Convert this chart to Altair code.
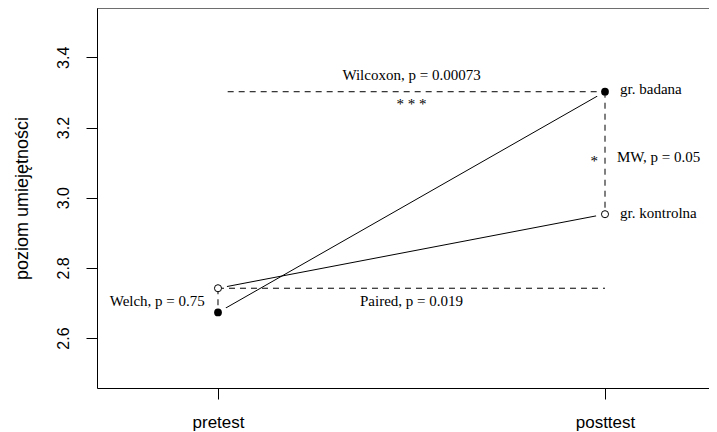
import altair as alt
import pandas as pd

# ---- data ----
groups = ["gr. badana", "gr. kontrolna"]
pretest_vals = [2.673, 2.742]
posttest_vals = [3.302, 2.953]
time_pos = [1, 2]
time_labels = ["pretest", "posttest"]
y_ticks = [2.6, 2.8, 3.0, 3.2, 3.4]

# dashed comparison segments (x, y, x2, y2)
seg_x = [1.025, 1.0, 2.0, 1.0]
seg_y = [3.302, 2.742, 3.302, 2.742]
seg_x2 = [2.0, 2.0, 2.0, 1.0]
seg_y2 = [3.302, 2.742, 2.953, 2.673]

# annotations
center_text = ["Wilcoxon, p = 0.00073", "* * *", "Paired, p = 0.019", "*"]
center_x = [1.5, 1.5, 1.5, 1.972]
center_y = [3.351, 3.266, 2.705, 3.105]
left_text = ["MW, p = 0.05", "gr. badana", "gr. kontrolna"]
left_x = [2.031, 2.039, 2.039]
left_y = [3.116, 3.311, 2.957]
right_text = ["Welch, p = 0.75"]
right_x = [0.966]
right_y = [2.705]

X_DOM = [0.68734, 2.26873]
Y_DOM = [2.4577, 3.5406]

pts = pd.DataFrame({
    "group": groups * 2,
    "t": [time_pos[0]] * 2 + [time_pos[1]] * 2,
    "v": pretest_vals + posttest_vals,
})
segs = pd.DataFrame({"x": seg_x, "y": seg_y, "x2": seg_x2, "y2": seg_y2})
ctext = pd.DataFrame({"txt": center_text, "x": center_x, "y": center_y})
ltext = pd.DataFrame({"txt": left_text, "x": left_x, "y": left_y})
rtext = pd.DataFrame({"txt": right_text, "x": right_x, "y": right_y})

label_expr = f"datum.value == {time_pos[0]} ? '{time_labels[0]}' : '{time_labels[1]}'"

x_scale = alt.Scale(domain=X_DOM, nice=False, zero=False)
y_scale = alt.Scale(domain=Y_DOM, nice=False, zero=False)

x_axis = alt.Axis(values=time_pos, labelExpr=label_expr, title=None, grid=False,
                  tickSize=11, tickColor="black", domainColor="black",
                  labelFont="Liberation Sans", labelFontSize=17, labelColor="black",
                  labelPadding=15, labelBaseline="top")
y_axis = alt.Axis(values=y_ticks, format=".1f", title="poziom umiejętności", grid=False,
                  tickSize=11, tickColor="black", domainColor="black",
                  labelFont="Liberation Sans", labelFontSize=16, labelColor="black",
                  labelAngle=-90, labelAlign="center", labelBaseline="alphabetic",
                  labelPadding=18,
                  titleFont="Liberation Sans", titleFontSize=18, titleFontWeight="normal",
                  titleColor="black", titleAngle=-90, titleX=-75, titleY=190,
                  titleAlign="center", titleBaseline="middle")

lines = alt.Chart(pts).mark_line(color="black", strokeWidth=1).encode(
    x=alt.X("t:Q", scale=x_scale, axis=x_axis),
    y=alt.Y("v:Q", scale=y_scale, axis=y_axis),
    detail="group:N",
)

masks = alt.Chart(pts).mark_point(shape="circle", filled=True, color="white",
                                  size=340, opacity=1).encode(
    x="t:Q", y="v:Q")

dashed = alt.Chart(segs).mark_rule(color="black", strokeWidth=1,
                                   strokeDash=[6, 5]).encode(
    x="x:Q", y="y:Q", x2="x2:Q", y2="y2:Q")

filled_pts = alt.Chart(pts).transform_filter(
    alt.datum.group == groups[0]).mark_point(
    shape="circle", filled=True, color="black", size=60, opacity=1).encode(
    x="t:Q", y="v:Q")
open_pts = alt.Chart(pts).transform_filter(
    alt.datum.group == groups[1]).mark_point(
    shape="circle", filled=True, fill="white", stroke="black", strokeWidth=1,
    size=50, opacity=1).encode(x="t:Q", y="v:Q")

txt_kw = dict(font="Liberation Serif", fontSize=15, color="black", baseline="middle")
t_center = alt.Chart(ctext).mark_text(align="center", **txt_kw).encode(
    x="x:Q", y="y:Q", text="txt:N")
t_left = alt.Chart(ltext).mark_text(align="left", **txt_kw).encode(
    x="x:Q", y="y:Q", text="txt:N")
t_right = alt.Chart(rtext).mark_text(align="right", **txt_kw).encode(
    x="x:Q", y="y:Q", text="txt:N")

top_frame = alt.Chart(pd.DataFrame({"a": [0]})).mark_rule(
    color="black", strokeWidth=1).encode(
    x=alt.datum(X_DOM[0]), x2=alt.datum(X_DOM[1]), y=alt.datum(Y_DOM[1]))

chart = alt.layer(
    lines, masks, dashed, filled_pts, open_pts, t_center, t_left, t_right, top_frame
).properties(
    width=612, height=380,
    padding={"left": 89, "top": 0, "right": 0, "bottom": 44},
    autosize=alt.AutoSizeParams(type="none"),
).configure_view(stroke=None).configure(background="white")

chart.save("out.html", embed_options={"renderer": "svg", "actions": False})
